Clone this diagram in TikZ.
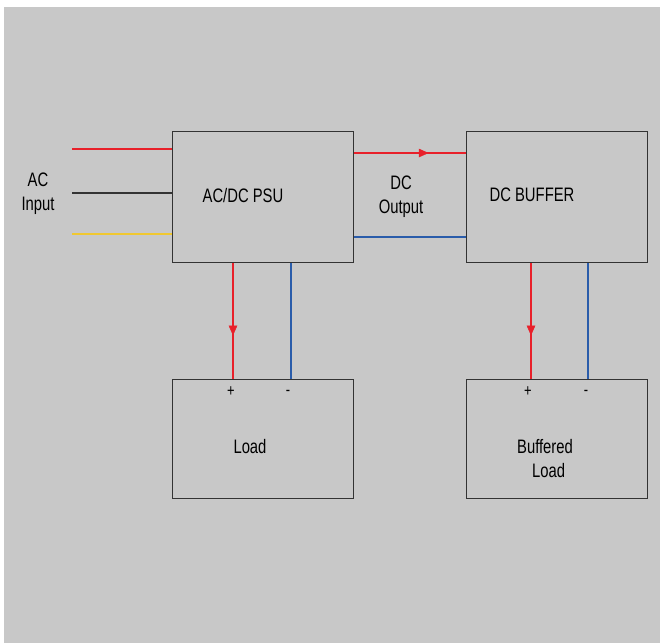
\documentclass[tikz,border=0pt]{standalone}
\usepackage{fontspec}
\setmainfont{Liberation Sans}[FakeStretch=0.76]
\usepackage{xcolor}
\usetikzlibrary{arrows.meta, positioning, calc}

\definecolor{bggray}{HTML}{C8C8C8}
\definecolor{wirered}{HTML}{E8202A}
\definecolor{wireblue}{HTML}{2A5CAA}
\definecolor{wireyellow}{HTML}{F0C830}
\definecolor{boxline}{HTML}{333333}

\begin{document}
\begin{tikzpicture}[x=1pt, y=-1pt, >=Stealth,
    block/.style={draw=boxline, line width=1.3pt, minimum width=181pt, minimum height=131pt, inner sep=0pt},
    label/.style={font=\fontsize{19.5}{24}\selectfont, align=center, inner sep=0pt},
    pin/.style={font=\fontsize{17}{17}\selectfont, inner sep=0pt},
    wire/.style={line width=1.2pt}]

            \useasboundingbox (0,0) rectangle (660,643);
            \fill[bggray] (4,7) rectangle (660,643);

            \node[block, anchor=north west] (psu) at (172,131) {};
            \node[block, anchor=north west] (buffer) at (466,131) {};
            \node[block, anchor=north west, minimum height=119pt] (load) at (172,379) {};
            \node[block, anchor=north west, minimum height=119pt] (bload) at (466,379) {};

            \node[label] (psutext) at (243,196) {AC/DC PSU};
            \node[label] (buftext) at (532,195) {DC BUFFER};
            \node[label] (loadtext) at (250,447) {Load};
            \node[label, align=left] (bloadtext) at (545,459) {Buffered\\\hspace*{15pt}Load};
            \node[label] (actext) at (38,194) {AC\\Input};
            \node[label] (dctext) at (401,197) {DC\\Output};

            \node[pin] (plus1) at (231,392) {+};
            \node[pin] (minus1) at (288,393) {-};
            \node[pin] (plus2) at (528,392) {+};
            \node[pin] (minus2) at (586,393) {-};

            % AC input wires
            \coordinate (acred) at (72,149);
            \coordinate (acblack) at (72,193);
            \coordinate (acyellow) at (72,234);
            \draw[wire, wirered] (acred) -- (acred -| psu.west);
            \draw[wire, boxline] (acblack) -- (acblack -| psu.west);
            \draw[wire, wireyellow] (acyellow) -- (acyellow -| psu.west);

            % DC output
            \draw[wire, wirered] ($(psu.north east)+(0,22)$) -- ($(buffer.north west)+(0,22)$)
                node[pos=0.62, sloped] {\tikz\draw[wirered, fill=wirered] (0,-4) -- (9,0) -- (0,4) -- cycle;};
            \draw[wire, wireblue] ($(psu.north east)+(0,106)$) -- ($(buffer.north west)+(0,106)$);

            % supply to loads
            \draw[wire, wirered] ($(psu.south west)+(61,0)$) -- ($(load.north west)+(61,0)$)
                node[pos=0.58, sloped] {\tikz\draw[wirered, fill=wirered] (0,-4) -- (9,0) -- (0,4) -- cycle;};
            \draw[wire, wireblue] ($(psu.south west)+(119,0)$) -- ($(load.north west)+(119,0)$);
            \draw[wire, wirered] ($(buffer.south west)+(65,0)$) -- ($(bload.north west)+(65,0)$)
                node[pos=0.58, sloped] {\tikz\draw[wirered, fill=wirered] (0,-4) -- (9,0) -- (0,4) -- cycle;};
            \draw[wire, wireblue] ($(buffer.south west)+(122,0)$) -- ($(bload.north west)+(122,0)$);
        \end{tikzpicture}
\end{document}
